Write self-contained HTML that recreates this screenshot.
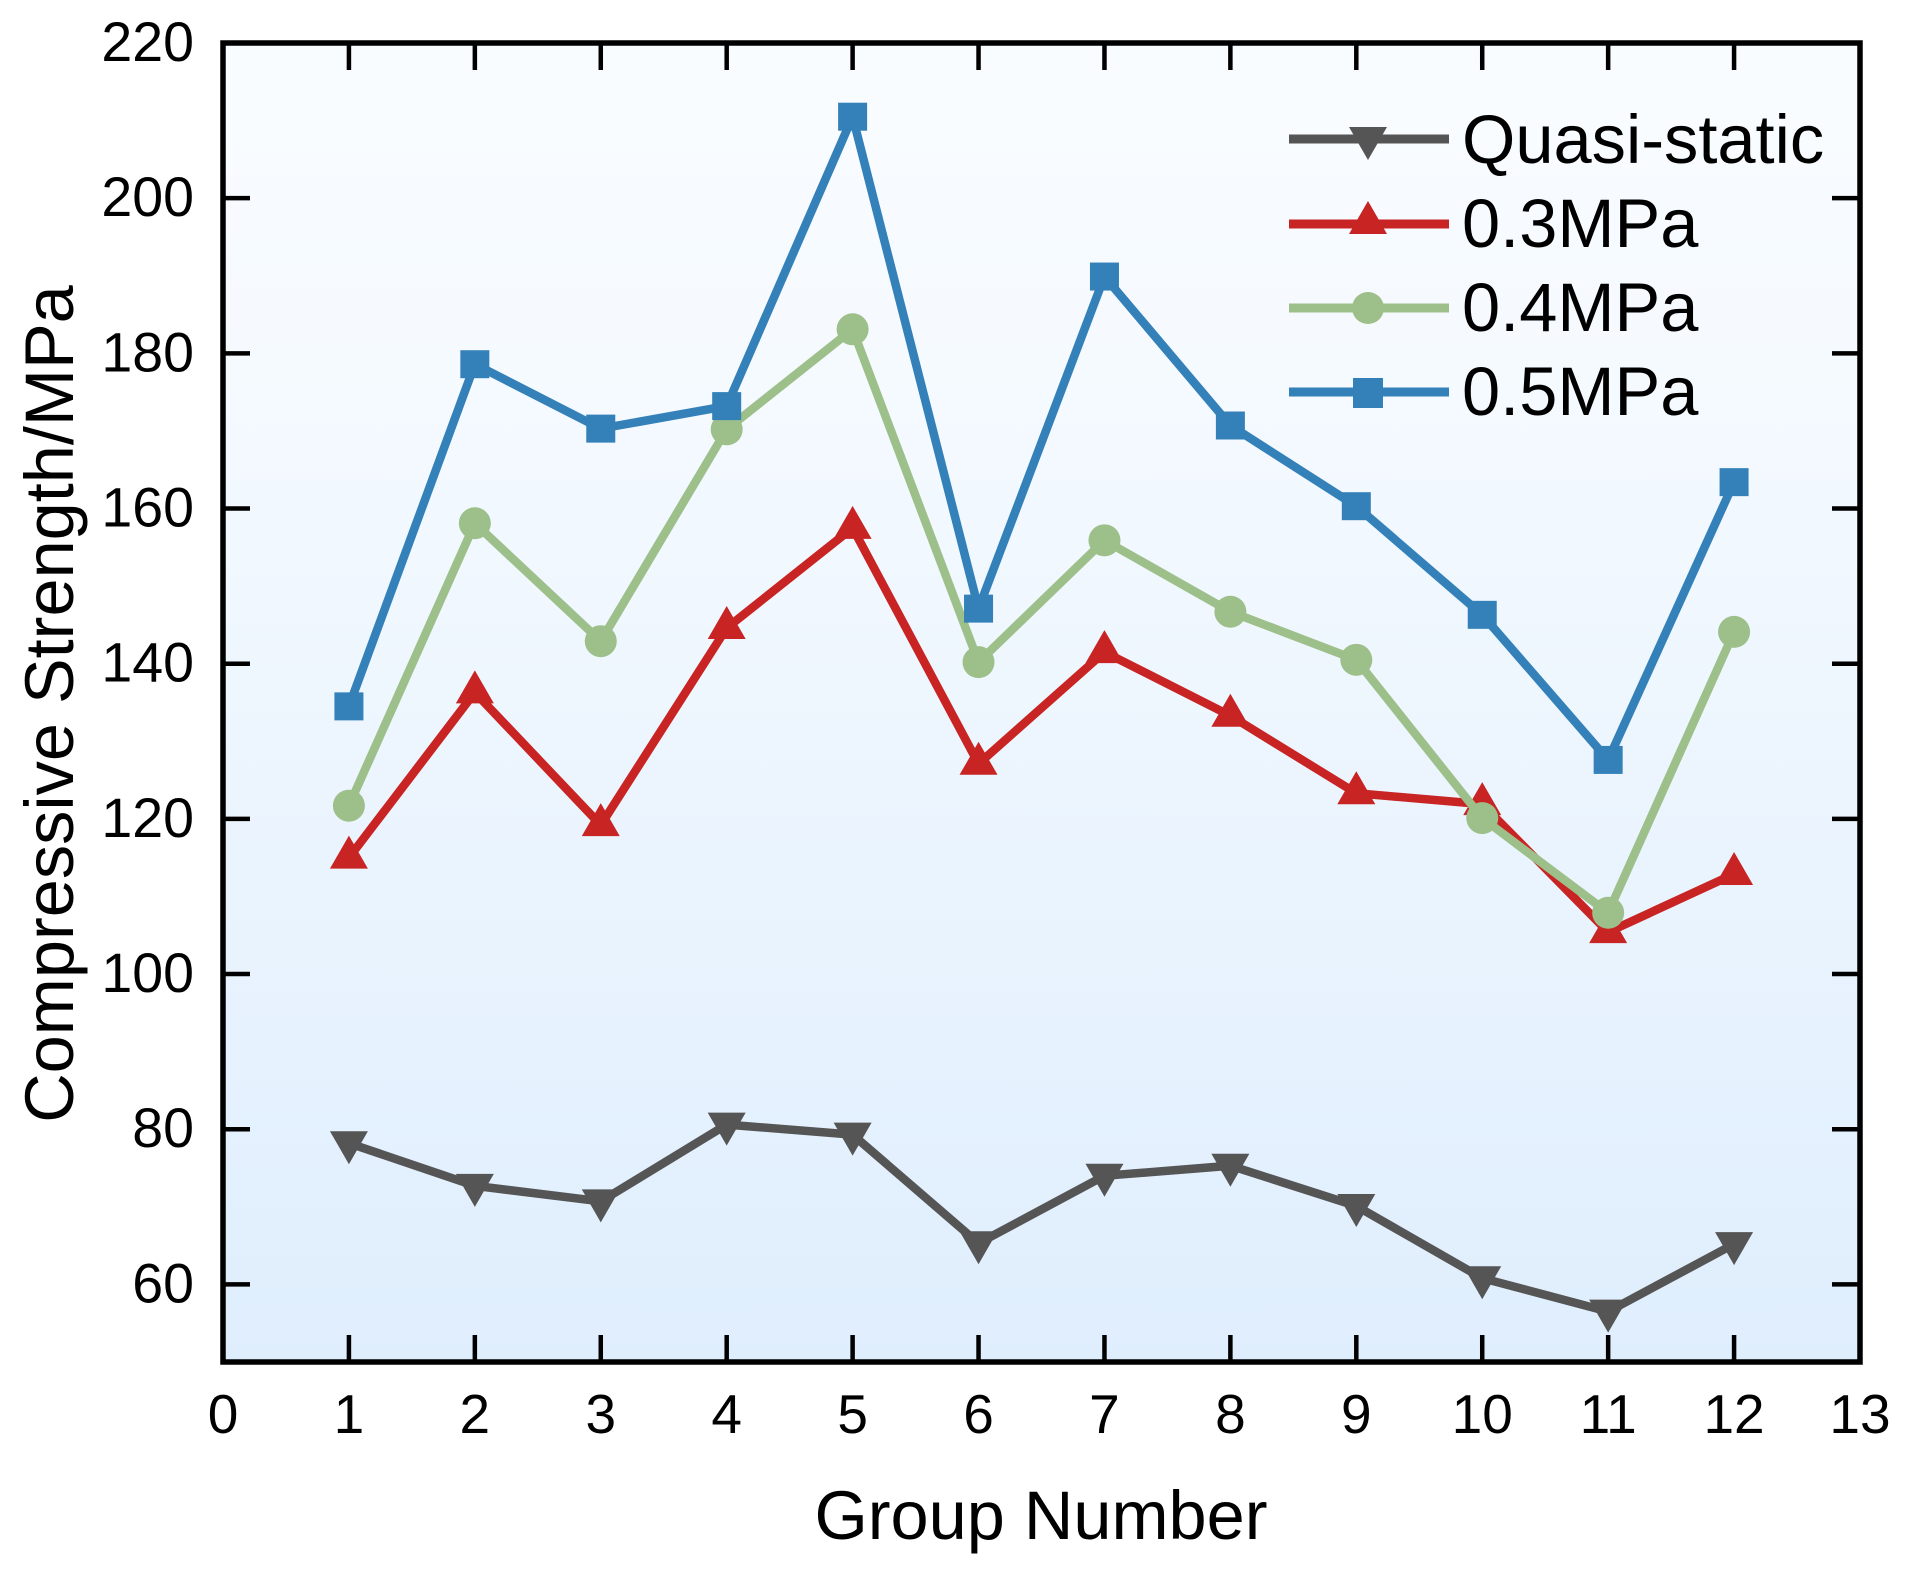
<!DOCTYPE html>
<html lang="en">
<head>
<meta charset="utf-8">
<title>Compressive Strength by Group Number</title>
<style>
html,body{margin:0;padding:0;background:#fff;width:1910px;height:1578px;overflow:hidden}
svg{display:block}
text{font-family:"Liberation Sans",Arial,sans-serif;fill:#000}
</style>
</head>
<body>
<svg id="chart" xmlns="http://www.w3.org/2000/svg" width="1910" height="1578" viewBox="0 0 1910 1578">
  <defs>
    <linearGradient id="bg" x1="0" y1="0" x2="0" y2="1">
      <stop offset="0" stop-color="#f9fcff"/>
      <stop offset="0.25" stop-color="#f5faff"/>
      <stop offset="1" stop-color="#dfeefd"/>
    </linearGradient>
  </defs>
  <rect id="plotBg" x="223" y="43" width="1637" height="1319" fill="url(#bg)"/>
  <g id="series"></g>
  <g id="ticks"></g>
  <rect x="223" y="43" width="1637" height="1319" fill="none" stroke="#000" stroke-width="5.5"/>
  <g id="tickLabels"></g>
  <text x="1041" y="1539" font-size="68.5" text-anchor="middle">Group Number</text>
  <text transform="translate(73 704) rotate(-90)" font-size="68.5" text-anchor="middle">Compressive Strength/MPa</text>
  <g>
    <g>
      <line x1="1289" y1="139" x2="1449" y2="139" stroke="#555555" stroke-width="9"/>
      <polygon points="1349,127 1387,127 1368,160" fill="#555555"/>
      <text x="1462" y="163" font-size="68.6">Quasi-static</text>
    </g>
    <g>
      <line x1="1289" y1="224" x2="1449" y2="224" stroke="#c82423" stroke-width="9"/>
      <polygon points="1349,234 1387,234 1368,201" fill="#c82423"/>
      <text x="1462" y="247" font-size="68.6">0.3MPa</text>
    </g>
    <g>
      <line x1="1289" y1="308" x2="1449" y2="308" stroke="#9dc08b" stroke-width="9"/>
      <circle cx="1368" cy="308" r="16" fill="#9dc08b"/>
      <text x="1462" y="331" font-size="68.6">0.4MPa</text>
    </g>
    <g>
      <line x1="1289" y1="392" x2="1449" y2="392" stroke="#3480b8" stroke-width="9"/>
      <rect x="1353" y="378" width="30" height="30" fill="#3480b8"/>
      <text x="1462" y="415" font-size="68.6">0.5MPa</text>
    </g>
  </g>
</svg>
<script>
const groups = [1, 2, 3, 4, 5, 6, 7, 8, 9, 10, 11, 12];
const quasiStatic = [78.2, 72.7, 70.7, 80.6, 79.3, 65.3, 74, 75.3, 70.1, 60.8, 56.5, 65.2];
const mpa03 = [115, 136.3, 119.2, 144.6, 157.5, 127.1, 141.5, 133.3, 123.3, 121.9, 105.4, 112.9];
const mpa04 = [121.7, 158.1, 142.9, 170.2, 183.1, 140.2, 155.9, 146.7, 140.5, 120.1, 107.9, 144.1];
const mpa05 = [134.5, 178.6, 170.3, 173.2, 210.5, 147.1, 189.9, 170.7, 160.3, 146.3, 127.6, 163.4];
const xTickLabels = [0, 1, 2, 3, 4, 5, 6, 7, 8, 9, 10, 11, 12, 13];
const yTickLabels = [60, 80, 100, 120, 140, 160, 180, 200, 220];

const NS = 'http://www.w3.org/2000/svg';
function xScale(v) { return 223 + (v / 13) * 1637; }
function yScale(v) { return 1362 - ((v - 50) / 170) * 1319; }
function make(tag, attrs, parent) {
  const el = document.createElementNS(NS, tag);
  for (const k in attrs) el.setAttribute(k, attrs[k]);
  parent.appendChild(el);
  return el;
}

const ticks = document.getElementById('ticks');
const labels = document.getElementById('tickLabels');
xTickLabels.forEach(function (v) {
  const x = xScale(v);
  if (v > 0 && v < 13) {
    const b = make('line', { x1: x, y1: 1362, x2: x, y2: 1335, stroke: '#000', 'stroke-width': 4.5 }, ticks);
    
    
    const t = make('line', { x1: x, y1: 43, x2: x, y2: 70, stroke: '#000', 'stroke-width': 4.5 }, ticks);
    
    
  }
  const lab = make('text', { x: x, y: 1433, 'font-size': 55, 'text-anchor': 'middle' }, labels);
  lab.textContent = String(v);
  
  
});
yTickLabels.forEach(function (v) {
  const y = yScale(v);
  if (v < 220) {
    const l = make('line', { x1: 223, y1: y, x2: 250, y2: y, stroke: '#000', 'stroke-width': 4.5 }, ticks);
    
    
    const r = make('line', { x1: 1860, y1: y, x2: 1832, y2: y, stroke: '#000', 'stroke-width': 4.5 }, ticks);
    
    
  }
  const lab = make('text', { x: 194, y: y + 18, 'font-size': 55.5, 'text-anchor': 'end' }, labels);
  lab.textContent = String(v);
  
  
});

function drawMarker(kind, cx, cy, color, parent) {
  if (kind === 'down') {
    return make('polygon', { points: (cx - 19) + ',' + (cy - 12) + ' ' + (cx + 19) + ',' + (cy - 12) + ' ' + cx + ',' + (cy + 21), fill: color }, parent);
  }
  if (kind === 'up') {
    return make('polygon', { points: (cx - 19) + ',' + (cy + 11) + ' ' + (cx + 19) + ',' + (cy + 11) + ' ' + cx + ',' + (cy - 22), fill: color }, parent);
  }
  if (kind === 'circle') {
    return make('circle', { cx: cx, cy: cy, r: 16, fill: color }, parent);
  }
  return make('rect', { x: cx - 14.5, y: cy - 14, width: 29, height: 28, fill: color }, parent);
}

function drawSeries(values, color, kind, name) {
  const layer = document.getElementById('series');
  const g = make('g', {}, layer);
  
  
  const pts = values.map(function (v, i) { return xScale(groups[i]) + ',' + yScale(v); }).join(' ');
  const line = make('polyline', { points: pts, fill: 'none', stroke: color, 'stroke-width': 8.5, 'stroke-linejoin': 'miter' }, g);
  
  
  values.forEach(function (v, i) {
    const m = drawMarker(kind, xScale(groups[i]), yScale(v), color, g);
    
    
  });
}

drawSeries(quasiStatic, '#555555', 'down', 'quasi-static');
drawSeries(mpa03, '#c82423', 'up', '0-3mpa');
drawSeries(mpa04, '#9dc08b', 'circle', '0-4mpa');
drawSeries(mpa05, '#3480b8', 'square', '0-5mpa');
</script>
</body>
</html>
